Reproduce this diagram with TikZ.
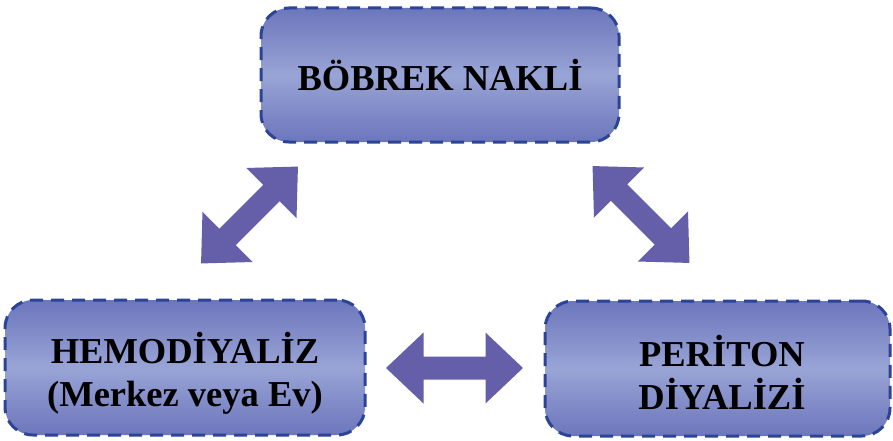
\documentclass[tikz,border=0pt]{standalone}
\usepackage{fontspec}
\setmainfont{Liberation Serif}
\definecolor{boxedge}{RGB}{44,68,150}
\definecolor{boxdark}{RGB}{108,118,188}
\definecolor{boxlight}{RGB}{153,164,214}
\definecolor{arrowfill}{RGB}{100,95,168}
\tikzset{
  x=1pt, y=-1pt,
  stagebox/.style={draw=boxedge, line width=3pt, dash pattern=on 13pt off 8pt,
    rounded corners=28pt, top color=boxdark, bottom color=boxdark,
    middle color=boxlight, align=center, inner sep=0pt,
    font=\fontsize{36.5}{43}\selectfont\bfseries},
  twoway/.pic={
    \fill[arrowfill] (-68.5,0) -- (-31,-35.5) -- (-31,-11.5) -- (31,-11.5)
      -- (31,-35.5) -- (68.5,0) -- (31,35.5) -- (31,11.5) -- (-31,11.5)
      -- (-31,35.5) -- cycle;
  }
}
\begin{document}
\begin{tikzpicture}
\useasboundingbox (0,0) rectangle (893,441);
% three treatment options
\node[stagebox, minimum width=358pt, minimum height=134pt] (nakil) at (440,75) {BÖBREK NAKLİ};
\node[stagebox, minimum width=360pt, minimum height=135pt] (hemo) at (185,367.5) {};
\node[align=center, inner sep=0pt, font=\fontsize{36.5}{43}\selectfont\bfseries] (hemotext) at (185,373) {HEMODİYALİZ\\(Merkez veya Ev)};
\node[stagebox, minimum width=345pt, minimum height=135pt] (periton) at (717.5,368.5) {};
\node[align=center, inner sep=0pt, font=\fontsize{36.5}{43}\selectfont\bfseries] (peritontext) at (722,372) {PERİTON\\DİYALİZİ};
% two-way transitions between them
\pic[rotate=45] at (249.5,215) {twoway};
\pic[rotate=-45] at (641,214.5) {twoway};
\pic at (454.5,368) {twoway};
\end{tikzpicture}
\end{document}
